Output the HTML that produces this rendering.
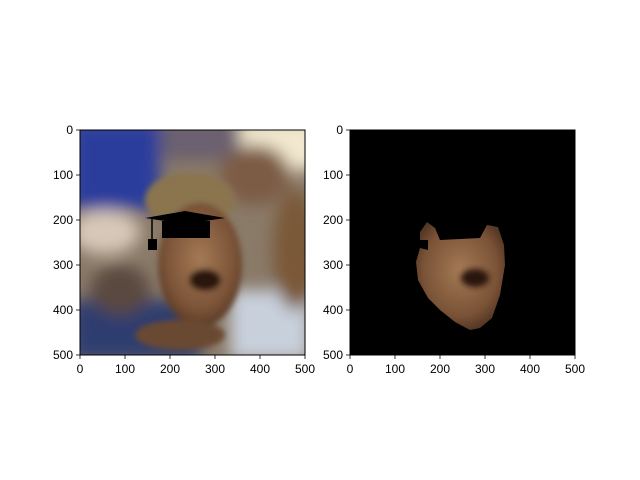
<!DOCTYPE html>
<html><head><meta charset="utf-8"><style>
html,body{margin:0;padding:0;background:#fff;}
svg{display:block;font-family:"Liberation Sans","DejaVu Sans",sans-serif;}
</style></head><body>
<svg id="fig" width="640" height="480" viewBox="0 0 640 480" xmlns="http://www.w3.org/2000/svg">
<defs>
<filter id="blur8" x="-50%" y="-50%" width="200%" height="200%"><feGaussianBlur stdDeviation="8"/></filter>
<filter id="blur3" x="-50%" y="-50%" width="200%" height="200%"><feGaussianBlur stdDeviation="3"/></filter>
<clipPath id="clipL"><rect x="80" y="130" width="225" height="225"/></clipPath>
<clipPath id="clipR"><rect x="350" y="130" width="225" height="225"/></clipPath>
<radialGradient id="skin" cx="0.5" cy="0.45" r="0.6"><stop offset="0" stop-color="#a47a55"/><stop offset="0.7" stop-color="#7a5236"/><stop offset="1" stop-color="#4a3020"/></radialGradient>
</defs>
<rect width="640" height="480" fill="#fff"/>
<g id="left-image" clip-path="url(#clipL)">
<rect x="80" y="130" width="225" height="225" fill="#8a7a68"/>
<g filter="url(#blur8)">
<rect x="240" y="120" width="80" height="50" fill="#f2e8cf"/>
<rect x="70" y="120" width="90" height="90" fill="#2a3e9c"/>
<rect x="160" y="120" width="80" height="40" fill="#6a6070"/>
<ellipse cx="255" cy="175" rx="35" ry="30" fill="#7d5b45"/>
<rect x="70" y="300" width="130" height="60" fill="#2e3e70"/>
<rect x="230" y="290" width="80" height="70" fill="#c8d0dc"/>
<ellipse cx="295" cy="250" rx="22" ry="60" fill="#7a5838"/>
<ellipse cx="105" cy="232" rx="35" ry="22" fill="#d8c8b8"/>
<ellipse cx="120" cy="290" rx="30" ry="25" fill="#5a4a40"/>
</g>
<g filter="url(#blur3)">
<ellipse cx="190" cy="200" rx="45" ry="28" fill="#8a7550"/>
<ellipse cx="200" cy="265" rx="42" ry="62" fill="url(#skin)"/>
<ellipse cx="205" cy="280" rx="16" ry="11" fill="#2a1210"/>
<ellipse cx="180" cy="335" rx="45" ry="15" fill="#6a4a30"/>
</g>
<polygon points="145,218 185,211 225,218 185,224" fill="#000"/>
<rect x="162" y="221" width="48" height="17" fill="#000"/>
<line x1="152" y1="218" x2="152" y2="240" stroke="#000" stroke-width="1.5"/>
<rect x="148" y="239" width="9" height="11" fill="#000"/>
</g>
<g id="right-image" clip-path="url(#clipR)">
<rect x="350" y="130" width="225" height="225" fill="#000"/>
<polygon points="420,232 427,222 435,228 440,240 480,238 487,225 498,227 504,245 505,265 500,295 492,318 480,328 470,330 455,322 440,310 428,298 418,280 416,262 420,248 428,250 428,240 420,240" fill="url(#skin)"/>
<ellipse cx="475" cy="278" rx="14" ry="9" fill="#2a1210" filter="url(#blur3)"/>
</g>
<g id="axes"></g>
</svg>
<script>
const xTicks=[0,100,200,300,400,500];
const yTicks=[0,100,200,300,400,500];
const panels=[{name:'left',x0:80},{name:'right',x0:350}];
const y0=130,size=225,maxV=500;
const ns='http://www.w3.org/2000/svg';
const g=document.getElementById('axes');
function sx(x0,v){return x0+v/maxV*size;}
function sy(v){return y0+v/maxV*size;}
function mk(tag,attrs,parent){const e=document.createElementNS(ns,tag);for(const k in attrs)e.setAttribute(k,attrs[k]);(parent||g).appendChild(e);return e;}
panels.forEach(p=>{
 const f=mk('rect',{x:p.x0,y:y0,width:size,height:size,fill:'none',stroke:'#000','stroke-width':1});
 
 
 xTicks.forEach(t=>{
  const x=sx(p.x0,t);
  const l=mk('line',{x1:x,y1:y0+size,x2:x,y2:y0+size+4,stroke:'#000','stroke-width':0.8});
  
  
  const tx=mk('text',{x:x,y:y0+size+18,'font-size':12,'text-anchor':'middle',fill:'#000'});
  tx.textContent=t;
  
  
 });
 yTicks.forEach(t=>{
  const y=sy(t);
  const l=mk('line',{x1:p.x0-4,y1:y,x2:p.x0,y2:y,stroke:'#000','stroke-width':0.8});
  
  
  const tx=mk('text',{x:p.x0-7,y:y+4,'font-size':12,'text-anchor':'end',fill:'#000'});
  tx.textContent=t;
  
  
 });
});
</script>
</body></html>
